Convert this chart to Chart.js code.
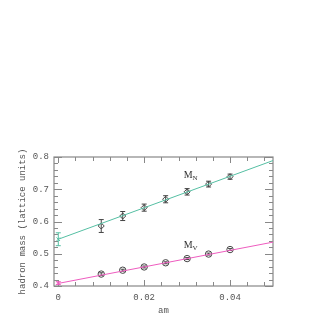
<!DOCTYPE html>
<html>
<head>
<meta charset="utf-8">
<script src="https://cdn.jsdelivr.net/npm/chart.js@4"></script>
<style>
  html, body { margin: 0; padding: 0; background: #fff; }
  #wrap { width: 320px; height: 320px; }
</style>
</head>
<body>
<div id="wrap"><canvas id="chart" width="320" height="320"></canvas></div>
<script>
// quark mass values (am)
const amValues = [0.01, 0.015, 0.02, 0.025, 0.03, 0.035, 0.04];
const nucleonMass = [0.586, 0.617, 0.643, 0.669, 0.692, 0.716, 0.739];
const nucleonErr = [0.020, 0.014, 0.011, 0.011, 0.010, 0.009, 0.008];
const vectorMass = [0.437, 0.449, 0.459, 0.472, 0.485, 0.499, 0.513];
const vectorErr = [0.004, 0.003, 0.003, 0.003, 0.003, 0.003, 0.003];

// chiral extrapolation (am = 0) and linear fits
const nucleonChiral = { x: 0, y: 0.545, err: 0.020 };
const vectorChiral = { x: 0, y: 0.409, err: 0.004 };
const nucleonFit = [{ x: 0, y: 0.545 }, { x: 0.05, y: 0.789 }];
const vectorFit = [{ x: 0, y: 0.408 }, { x: 0.05, y: 0.536 }];

const xTickLabels = [0, 0.02, 0.04];
const yTickLabels = [0.4, 0.5, 0.6, 0.7, 0.8];
const xMinorTicks = [0, 0.004, 0.008, 0.012, 0.016, 0.02, 0.024, 0.028, 0.032, 0.036, 0.04, 0.044, 0.048];
const yMinorTicks = [0.42, 0.44, 0.46, 0.48, 0.52, 0.54, 0.56, 0.58, 0.62, 0.64, 0.66, 0.68, 0.72, 0.74, 0.76, 0.78];

const curveLabels = [
    { text: 'M', sub: 'N', x: 0.0292, y: 0.735 },
    { text: 'M', sub: 'V', x: 0.0292, y: 0.519 }
];

const tealColor = '#55bfa3';
const pinkColor = '#ee5cbf';
const markColor = '#444';
const axisColor = '#888';
const textColor = '#555';
const monoFont = '"Liberation Mono", "DejaVu Sans Mono", monospace';
const serifFont = '"Liberation Serif", "DejaVu Serif", serif';

// error bars, drawn through the chart scales
function drawErrors(ctx, xs, ys, errs, color, cap) {
    ctx.save();
    ctx.strokeStyle = color;
    ctx.lineWidth = 1;
    xs.forEach((xv, i) => {
        const px = xs === null ? 0 : chartRef.scales.x.getPixelForValue(xv);
        const top = chartRef.scales.y.getPixelForValue(ys[i] + errs[i]);
        const bot = chartRef.scales.y.getPixelForValue(ys[i] - errs[i]);
        ctx.beginPath();
        ctx.moveTo(px, top); ctx.lineTo(px, bot);
        ctx.moveTo(px - cap, top); ctx.lineTo(px + cap, top);
        ctx.moveTo(px - cap, bot); ctx.lineTo(px + cap, bot);
        ctx.stroke();
    });
    ctx.restore();
}

let chartRef = null;

const framePlugin = {
    id: 'frame',
    beforeDatasetsDraw(chart) {
        chartRef = chart;
        const ctx = chart.ctx;
        const xs = chart.scales.x, ys = chart.scales.y;
        const a = chart.chartArea;
        ctx.save();
        ctx.strokeStyle = axisColor;
        ctx.lineWidth = 1.2;
        ctx.strokeRect(a.left, a.top, a.right - a.left, a.bottom - a.top);
        ctx.lineWidth = 1;
        ctx.beginPath();
        xMinorTicks.forEach(v => {
            const px = Math.round(xs.getPixelForValue(v)) + 0.5;
            const len = xTickLabels.includes(v) ? 6 : 4;
            ctx.moveTo(px, a.bottom); ctx.lineTo(px, a.bottom - len);
            ctx.moveTo(px, a.top); ctx.lineTo(px, a.top + len);
        });
        yTickLabels.concat(yMinorTicks).forEach(v => {
            const py = Math.round(ys.getPixelForValue(v)) + 0.5;
            const len = yTickLabels.includes(v) ? 8 : 4;
            ctx.moveTo(a.left, py); ctx.lineTo(a.left + len, py);
            ctx.moveTo(a.right, py); ctx.lineTo(a.right - len, py);
        });
        ctx.stroke();
        ctx.restore();

        drawErrors(ctx, amValues, nucleonMass, nucleonErr, markColor, 2.5);
        drawErrors(ctx, amValues, vectorMass, vectorErr, markColor, 2);
        drawErrors(ctx, [nucleonChiral.x], [nucleonChiral.y], [nucleonChiral.err], tealColor, 2.5);
        drawErrors(ctx, [vectorChiral.x], [vectorChiral.y], [vectorChiral.err], pinkColor, 2.5);
    },
    afterDatasetsDraw(chart) {
        const ctx = chart.ctx;
        ctx.save();
        ctx.fillStyle = '#333';
        ctx.textBaseline = 'alphabetic';
        curveLabels.forEach(l => {
            const px = chart.scales.x.getPixelForValue(l.x);
            const py = chart.scales.y.getPixelForValue(l.y);
            ctx.font = '10px ' + serifFont;
            ctx.fillText(l.text, px, py);
            const w = ctx.measureText(l.text).width;
            ctx.font = '7px ' + serifFont;
            ctx.fillText(l.sub, px + w, py + 2);
        });
        ctx.restore();
    }
};

new Chart(document.getElementById('chart'), {
    type: 'scatter',
    data: {
        datasets: [
            {
                data: nucleonFit, type: 'line', borderColor: tealColor, borderWidth: 1,
                pointRadius: 0, fill: false
            },
            {
                data: vectorFit, type: 'line', borderColor: pinkColor, borderWidth: 1,
                pointRadius: 0, fill: false
            },
            {
                data: amValues.map((x, i) => ({ x, y: nucleonMass[i] })),
                pointStyle: 'rectRot', pointRadius: 3, borderColor: markColor,
                borderWidth: 1, backgroundColor: 'rgba(0,0,0,0)'
            },
            {
                data: amValues.map((x, i) => ({ x, y: vectorMass[i] })),
                pointStyle: 'circle', pointRadius: 3.2, borderColor: markColor,
                borderWidth: 1, backgroundColor: 'rgba(0,0,0,0)'
            },
            {
                data: [{ x: nucleonChiral.x, y: nucleonChiral.y }],
                pointStyle: 'crossRot', pointRadius: 2.5, borderColor: tealColor, borderWidth: 1
            },
            {
                data: [{ x: vectorChiral.x, y: vectorChiral.y }],
                pointStyle: 'crossRot', pointRadius: 2.5, borderColor: pinkColor, borderWidth: 1
            }
        ]
    },
    options: {
        responsive: false,
        animation: false,
        events: [],
        layout: { padding: { top: 157, right: 47, left: 0, bottom: 0 } },
        plugins: { legend: { display: false }, tooltip: { enabled: false } },
        scales: {
            x: {
                type: 'linear', min: -0.001, max: 0.05,
                grid: { display: false, drawTicks: false },
                border: { display: false },
                afterFit: s => { s.height = 34; },
                afterBuildTicks: s => { s.ticks = xTickLabels.map(v => ({ value: v })); },
                ticks: {
                    color: textColor, padding: 6, maxRotation: 0,
                    font: { family: monoFont, size: 9 },
                    callback: v => String(+v.toFixed(2))
                },
                title: {
                    display: true, text: 'am', color: textColor,
                    font: { family: monoFont, size: 9 }, padding: { top: 0, bottom: 4 }
                }
            },
            y: {
                type: 'linear', min: 0.4, max: 0.8,
                grid: { display: false, drawTicks: false },
                border: { display: false },
                afterFit: s => { s.width = 54; },
                afterBuildTicks: s => { s.ticks = yTickLabels.map(v => ({ value: v })); },
                ticks: {
                    color: textColor, padding: 5,
                    font: { family: monoFont, size: 9 },
                    callback: v => v.toFixed(1)
                },
                title: {
                    display: true, text: 'hadron mass (lattice units)', color: textColor,
                    font: { family: monoFont, size: 9 }, padding: { top: 17, bottom: 0 }
                }
            }
        }
    },
    plugins: [framePlugin]
});
</script>
</body>
</html>
